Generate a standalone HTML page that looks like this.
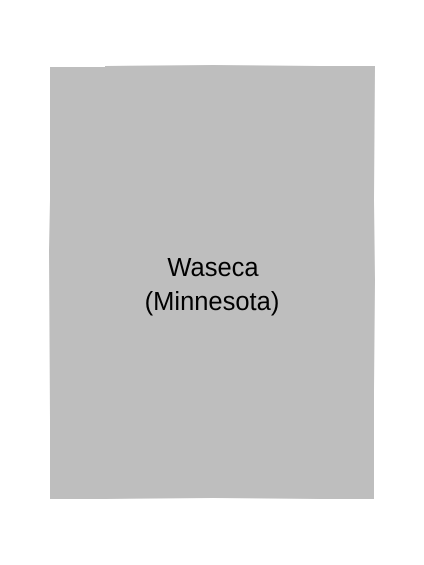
<!DOCTYPE html>
<html><head><meta charset="utf-8"><style>html,body{margin:0;padding:0;background:#fff;width:424px;height:565px;overflow:hidden}</style></head>
<body>
<svg width="424" height="565" viewBox="0 0 424 565" xmlns="http://www.w3.org/2000/svg">
<polygon fill="#bebebe" points="50,67 105,67 105,66 213,65 320,66 375,66 374,200 375,280 374,390 374,499 320,499 213,498 105,499 50,499 50,420 49,250 50,200"/>
<text x="213" y="276" font-family="Liberation Sans, sans-serif" font-size="25.5" text-anchor="middle" fill="#000">Waseca</text>
<text x="212" y="310" font-family="Liberation Sans, sans-serif" font-size="25.5" text-anchor="middle" fill="#000">(Minnesota)</text>
</svg>
</body></html>
